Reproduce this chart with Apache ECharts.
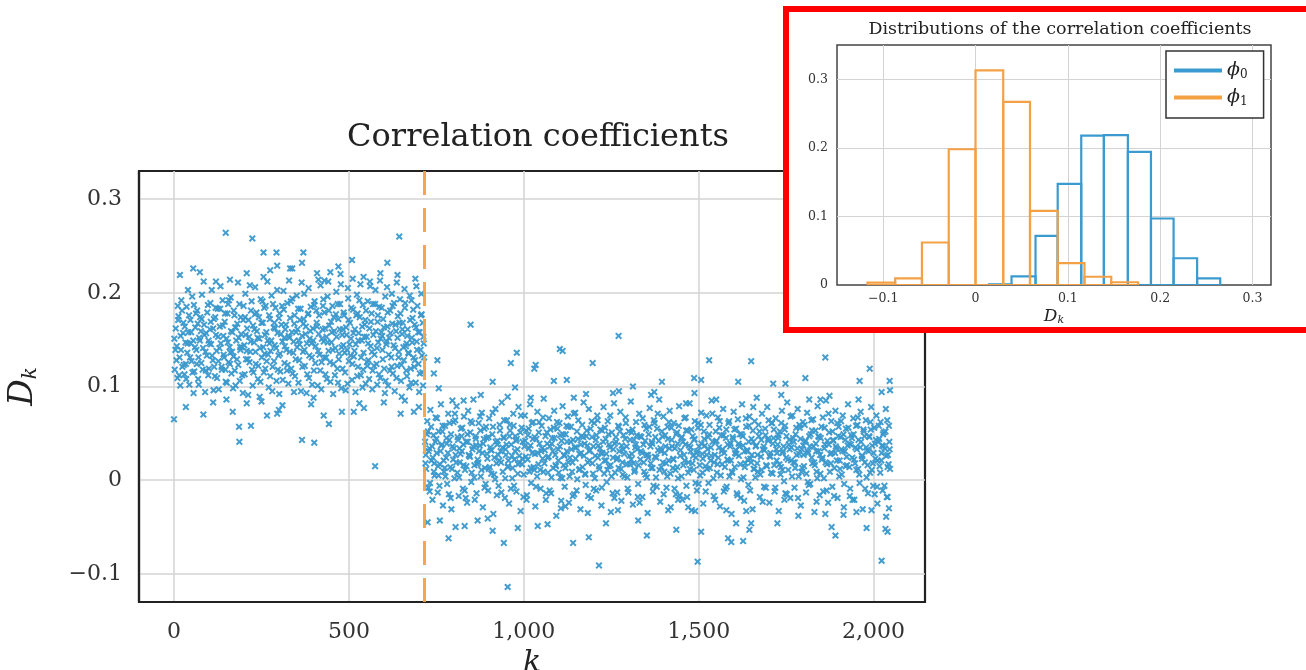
<!DOCTYPE html>
<html>
<head>
<meta charset="utf-8">
<script src="https://cdn.jsdelivr.net/npm/echarts@6/dist/echarts.min.js"></script>
<style>
html,body{margin:0;padding:0;background:#fff;}
#chart{width:1306px;height:670px;}
</style>
</head>
<body>
<div id="chart"></div>
<script>
// ---------------- DATA ----------------
const mainTitle = 'Correlation coefficients';
const insetTitle = 'Distributions of the correlation coefficients';
const changePoint = 716;

// correlation coefficient D_k for regime phi0 (k < changePoint): [k, D_k]
const regime0Core = [
[2,.118],[5,.162],[8,.143],[10,.109],[13,.175],[16,.131],[19,.154],[21,.192],[24,.121],[27,.168],[30,.113],[33,.147],[36,.185],[38,.136],[41,.158],[44,.102],[47,.171],[50,.127],[52,.196],[55,.149],[58,.116],[61,.163],[64,.139],[66,.181],[69,.108],[72,.152],[75,.174],[78,.125],[80,.198],[83,.141],[86,.166],[89,.094],[92,.157],[94,.133],[97,.187],[100,.119],[103,.161],[106,.145],[108,.203],[111,.128],[114,.172],[117,.111],[120,.155],[122,.138],[125,.183],[128,.097],[131,.164],[134,.146],[136,.121],[139,.192],[142,.134],[145,.169],[148,.105],[150,.151],[153,.178],[156,.126],[159,.142],[162,.195],[164,.114],[167,.158],[170,.132],[173,.176],[176,.101],[178,.149],[181,.167],[184,.123],[187,.188],[190,.139],[192,.156],[195,.112],[198,.171],[201,.144],[204,.199],[206,.129],[209,.162],[212,.091],[215,.153],[218,.137],[220,.181],[223,.118],[226,.165],[229,.147],[232,.206],[234,.124],[237,.159],[240,.108],[243,.174],[246,.141],[248,.193],[251,.131],[254,.168],[257,.115],[260,.155],[262,.186],[265,.127],[268,.149],[271,.099],[274,.172],[276,.138],[279,.197],[282,.121],[285,.163],[288,.144],[290,.184],[293,.106],[296,.157],[299,.133],[302,.178],[304,.116],[307,.166],[310,.148],[313,.202],[316,.125],[318,.161],[321,.139],[324,.189],[327,.103],[330,.152],[332,.173],[335,.119],[338,.194],[341,.136],[344,.167],[346,.111],[349,.158],[352,.142],[355,.183],[358,.128],[360,.171],[363,.095],[366,.154],[369,.137],[372,.199],[374,.122],[377,.164],[380,.146],[383,.177],[386,.109],[388,.151],[391,.185],[394,.131],[397,.162],[400,.117],[402,.191],[405,.143],[408,.168],[411,.101],[414,.156],[416,.134],[419,.208],[422,.126],[425,.161],[428,.148],[430,.179],[433,.113],[436,.153],[439,.196],[442,.138],[444,.165],[447,.105],[450,.147],[453,.186],[456,.124],[458,.159],[461,.141],[464,.201],[467,.119],[470,.172],[472,.135],[475,.188],[478,.098],[481,.155],[484,.144],[486,.176],[489,.115],[492,.163],[495,.139],[498,.194],[500,.127],[503,.168],[506,.151],[509,.107],[512,.182],[514,.132],[517,.161],[520,.145],[523,.198],[526,.121],[528,.157],[531,.174],[534,.112],[537,.149],[540,.187],[542,.136],[545,.166],[548,.103],[551,.153],[554,.191],[556,.128],[559,.162],[562,.143],[565,.178],[568,.117],[570,.155],[573,.134],[576,.203],[579,.124],[582,.169],[584,.147],[587,.185],[590,.109],[593,.158],[596,.139],[598,.172],[601,.119],[604,.196],[607,.145],[610,.164],[612,.101],[615,.152],[618,.181],[621,.131],[624,.167],[626,.114],[629,.189],[632,.141],[635,.159],[638,.122],[640,.175],[643,.137],[646,.193],[649,.106],[652,.156],[654,.168],[657,.128],[660,.184],[663,.143],[666,.111],[668,.161],[671,.135],[674,.197],[677,.119],[680,.152],[682,.173],[685,.131],[688,.166],[691,.104],[694,.148],[696,.186],[699,.124],[702,.158],[705,.139],[708,.177],[710,.115],[713,.153],[715,.131]
];
const regime0Spread = [
[4,.139],[11,.186],[18,.101],[26,.157],[34,.124],[40,.203],[48,.146],[56,.093],[63,.178],[70,.131],[77,.159],[85,.212],[91,.117],[99,.149],[105,.169],[113,.096],[119,.184],[127,.127],[133,.207],[141,.154],[147,.118],[155,.188],[161,.136],[169,.098],[175,.163],[183,.211],[189,.142],[197,.093],[203,.174],[211,.129],[217,.208],[225,.101],[231,.177],[239,.152],[245,.089],[253,.191],[259,.135],[267,.212],[273,.146],[281,.095],[287,.168],[295,.203],[301,.092],[309,.186],[315,.152],[323,.117],[329,.213],[337,.158],[343,.094],[351,.197],[357,.149],[365,.211],[371,.172],[379,.093],[385,.205],[393,.146],[399,.088],[407,.181],[413,.214],[421,.097],[427,.193],[435,.131],[441,.212],[449,.169],[455,.092],[463,.177],[469,.104],[477,.209],[483,.161],[491,.096],[497,.205],[505,.133],[511,.215],[519,.094],[525,.178],[533,.209],[539,.099],[547,.171],[553,.122],[561,.207],[567,.097],[575,.188],[581,.102],[589,.213],[595,.154],[603,.093],[609,.206],[617,.117],[623,.199],[631,.095],[637,.211],[645,.168],[651,.089],[659,.204],[665,.146],[673,.099],[679,.192],[687,.121],[693,.207],[701,.094],[707,.199],[712,.101]
];
const regime0Dense = [
[1,.151],[7,.128],[12,.171],[15,.112],[20,.139],[23,.181],[28,.123],[31,.164],[35,.108],[39,.146],[43,.176],[46,.131],[49,.158],[53,.115],[57,.187],[60,.142],[65,.124],[68,.167],[71,.102],[74,.149],[79,.172],[82,.118],[87,.155],[90,.137],[95,.179],[98,.112],[101,.146],[104,.189],[109,.133],[112,.162],[115,.121],[118,.174],[123,.109],[126,.153],[130,.141],[132,.183],[137,.118],[140,.165],[143,.131],[146,.178],[151,.104],[154,.147],[157,.192],[160,.124],[163,.159],[166,.137],[171,.181],[174,.117],[177,.163],[180,.129],[185,.152],[188,.106],[191,.174],[194,.142],[199,.186],[202,.113],[205,.155],[208,.138],[213,.171],[216,.126],[219,.148],[222,.191],[227,.115],[230,.161],[233,.137],[236,.179],[241,.122],[244,.151],[247,.105],[250,.168],[255,.142],[258,.184],[261,.119],[264,.158],[269,.134],[272,.176],[275,.111],[278,.149],[283,.188],[286,.127],[289,.162],[292,.141],[297,.118],[300,.173],[303,.135],[306,.156],[311,.107],[314,.182],[317,.143],[320,.166],[325,.123],[328,.154],[331,.137],[334,.191],[339,.114],[342,.148],[345,.176],[348,.129],[353,.161],[356,.104],[359,.145],[362,.183],[367,.121],[370,.167],[373,.139],[376,.156],[381,.113],[384,.178],[387,.133],[390,.159],[395,.102],[398,.149],[401,.187],[404,.125],[409,.164],[412,.138],[415,.176],[418,.117],[423,.151],[426,.186],[429,.131],[432,.162],[437,.108],[440,.147],[443,.181],[446,.126],[451,.158],[454,.139],[457,.174],[460,.112],[465,.153],[468,.188],[471,.129],[474,.161],[479,.142],[482,.119],[485,.179],[488,.136],[493,.155],[496,.103],[499,.171],[502,.145],[507,.184],[510,.124],[513,.157],[516,.138],[521,.176],[524,.111],[527,.149],[530,.192],[535,.131],[538,.164],[541,.118],[544,.153],[549,.181],[552,.126],[555,.146],[558,.108],[563,.169],[566,.137],[569,.188],[572,.122],[577,.159],[580,.141],[583,.176],[586,.113],[591,.151],[594,.184],[597,.129],[600,.163],[605,.106],[608,.148],[611,.179],[614,.134],[619,.157],[622,.121],[625,.186],[628,.144],[633,.166],[636,.109],[639,.152],[642,.131],[647,.178],[650,.123],[653,.161],[656,.142],[661,.189],[664,.117],[667,.154],[670,.136],[675,.171],[678,.104],[681,.147],[684,.182],[689,.128],[692,.163],[695,.139],[698,.158],[703,.114],[706,.176],[709,.133],[711,.168],[714,.146]
];
const regime0Outliers = [
[148,.264],[224,.258],[256,.243],[293,.243],[370,.243],[644,.260],[509,.235],[690,.215],[610,.232],[17,.219],[55,.226],[74,.222],[208,.221],[295,.229],[332,.226],[366,.232],[409,.221],[447,.222],[476,.220],[590,.221],[256,.217],[275,.224],[338,.226],[542,.217],[639,.219],[560,.212],[120,.212],[160,.214],[430,.213],[470,.228],
[0,.065],[34,.078],[84,.070],[186,.057],[220,.058],[187,.041],[366,.043],[401,.040],[443,.060],[575,.015],[295,.071],[266,.069],[168,.073],[208,.082],[480,.073],[514,.073],[543,.077],[648,.071],[686,.073],[428,.069],[300,.075],[112,.083],[310,.080],[150,.086],[250,.084],[392,.081],[600,.083],[700,.078],[660,.085],[530,.082]
];

// correlation coefficient D_k for regime phi1 (k >= changePoint): [k, D_k]
const regime1Core = [
[718,.041],[721,.012],[724,.063],[727,-.008],[730,.034],[733,.075],[736,.021],[739,-.021],[742,.048],[745,.005],[748,.067],[751,.029],[754,-.013],[757,.052],[760,.017],[763,.081],[766,.038],[769,-.027],[772,.009],[775,.058],[778,.024],[781,-.004],[784,.071],[787,.043],[790,.014],[793,-.031],[796,.036],[799,.062],[802,.002],[805,.027],[808,.079],[811,.046],[814,-.017],[817,.019],[820,.055],[823,.031],[826,-.009],[829,.068],[832,.011],[835,.041],[838,-.024],[841,.074],[844,.026],[847,.051],[850,-.002],[853,.033],[856,.086],[859,.016],[862,.047],[865,-.014],[868,.022],[871,.061],[874,.037],[877,.004],[880,.072],[883,-.029],[886,.044],[889,.013],[892,.057],[895,.028],[898,-.011],[901,.066],[904,.035],[907,.007],[910,.049],[913,-.036],[916,.024],[919,.076],[922,.018],[925,.042],[928,-.006],[931,.059],[934,.031],[937,.083],[940,.009],[943,.045],[946,-.019],[949,.027],[952,.064],[955,.015],[958,-.025],[961,.053],[964,.038],[967,.002],[970,.071],[973,.022],[976,.047],[979,-.012],[982,.033],[985,.078],[988,.019],[991,-.033],[994,.056],[997,.041],[1000,.006],[1003,.069],[1006,.025],[1009,-.016],[1012,.048],[1015,.034],[1018,.081],[1021,-.003],[1024,.029],[1027,.062],[1030,.011],[1033,-.028],[1036,.044],[1039,.073],[1042,.017],[1045,.039],[1048,-.009],[1051,.058],[1054,.023],[1057,.087],[1060,.032],[1063,-.021],[1066,.051],[1069,.008],[1072,.066],[1075,.036],[1078,-.014],[1081,.045],[1084,.013],[1087,.074],[1090,.027],[1093,-.038],[1096,.055],[1099,.021],[1102,.061],[1105,.003],[1108,.042],[1111,.079],[1114,.016],[1117,-.007],[1120,.049],[1123,.031],[1126,.068],[1129,-.024],[1132,.024],[1135,.057],[1138,.009],[1141,.043],[1144,-.015],[1147,.072],[1150,.035],[1153,.001],[1156,.064],[1159,.028],[1162,-.031],[1165,.047],[1168,.014],[1171,.083],[1174,.039],[1177,-.005],[1180,.053],[1183,.019],[1186,.076],[1189,.032],[1192,-.019],[1195,.046],[1198,.007],[1201,.061],[1204,.026],[1207,-.011],[1210,.069],[1213,.037],[1216,.012],[1219,.054],[1222,-.027],[1225,.029],[1228,.078],[1231,.021],[1234,.044],[1237,-.002],[1240,.063],[1243,.015],[1246,.035],[1249,-.034],[1252,.051],[1255,.024],[1258,.082],[1261,.008],[1264,.041],[1267,-.013],[1270,.058],[1273,.031],[1276,.073],[1279,-.022],[1282,.019],[1285,.048],[1288,.004],[1291,.067],[1294,.036],[1297,-.009],[1300,.052],[1303,.017],[1306,.084],[1309,.028],[1312,-.026],[1315,.043],[1318,.011],[1321,.062],[1324,.033],[1327,-.004],[1330,.071],[1333,.022],[1336,.046],[1339,-.018],[1342,.038],[1345,.059],[1348,.006],[1351,.027],[1354,-.035],[1357,.049],[1360,.077],[1363,.018],[1366,.041],[1369,-.012],[1372,.064],[1375,.025],[1378,.003],[1381,.055],[1384,.032],[1387,.086],[1390,-.023],[1393,.014],[1396,.047],[1399,.068],[1402,.009],[1405,.036],[1408,-.008],[1411,.057],[1414,.021],[1417,.074],[1420,-.029],[1423,.043],[1426,.013],[1429,.061],[1432,.034],[1435,-.015],[1438,.051],[1441,.002],[1444,.079],[1447,.026],[1450,.045],[1453,-.021],[1456,.016],[1459,.066],[1462,.038],[1465,-.006],[1468,.053],[1471,.019],[1474,.082],[1477,.031],[1480,-.032],[1483,.047],[1486,.011],[1489,.063],[1492,.024],[1495,-.011],[1498,.056],[1501,.036],[1504,.005],[1507,.072],[1510,.028],[1513,-.025],[1516,.044],[1519,.015],[1522,.069],[1525,.033],[1528,-.003],[1531,.059],[1534,.021],[1537,.085],[1540,.041],[1543,-.017],[1546,.027],[1549,.052],[1552,.008],[1555,.067],[1558,.035],[1561,-.028],[1564,.048],[1567,.017],[1570,.076],[1573,.029],[1576,-.009],[1579,.054],[1582,.022],[1585,.061],[1588,.004],[1591,.039],[1594,-.036],[1597,.046],[1600,.073],[1603,.014],[1606,.032],[1609,-.014],[1612,.065],[1615,.026],[1618,.049],[1621,.001],[1624,.081],[1627,.037],[1630,-.022],[1633,.018],[1636,.057],[1639,.031],[1642,-.005],[1645,.068],[1648,.023],[1651,.044],[1654,-.031],[1657,.012],[1660,.063],[1663,.036],[1666,.088],[1669,.009],[1672,.047],[1675,-.018],[1678,.025],[1681,.071],[1684,.033],[1687,-.007],[1690,.055],[1693,.016],[1696,.078],[1699,.042],[1702,-.024],[1705,.029],[1708,.061],[1711,.007],[1714,.045],[1717,-.012],[1720,.066],[1723,.021],[1726,.038],[1729,-.033],[1732,.052],[1735,.014],[1738,.074],[1741,.031],[1744,-.001],[1747,.058],[1750,.024],[1753,.083],[1756,.011],[1759,.043],[1762,-.019],[1765,.035],[1768,.069],[1771,.019],[1774,-.008],[1777,.049],[1780,.027],[1783,.076],[1786,.004],[1789,.056],[1792,-.027],[1795,.033],[1798,.062],[1801,.015],[1804,.041],[1807,-.013],[1810,.072],[1813,.029],[1816,.047],[1819,-.004],[1822,.064],[1825,.018],[1828,.036],[1831,-.034],[1834,.053],[1837,.009],[1840,.079],[1843,.031],[1846,-.016],[1849,.045],[1852,.022],[1855,.067],[1858,.002],[1861,.038],[1864,.085],[1867,.017],[1870,-.024],[1873,.051],[1876,.028],[1879,.063],[1882,-.007],[1885,.042],[1888,.013],[1891,.074],[1894,.034],[1897,-.019],[1900,.057],[1903,.021],[1906,.046],[1909,.006],[1912,.069],[1915,-.029],[1918,.031],[1921,.055],[1924,.016],[1927,.081],[1930,.039],[1933,-.009],[1936,.048],[1939,.024],[1942,.066],[1945,-.021],[1948,.035],[1951,.011],[1954,.059],[1957,.043],[1960,-.003],[1963,.073],[1966,.026],[1969,-.031],[1972,.052],[1975,.019],[1978,.064],[1981,.032],[1984,-.014],[1987,.047],[1990,.008],[1993,.078],[1996,.037],[1999,-.006],[2002,.056],[2005,.023],[2008,.069],[2011,-.025],[2014,.041],[2017,.015],[2020,.062],[2023,.029],[2026,-.011],[2029,.051],[2032,.034],[2035,.076],[2038,-.018],[2041,.027],[2044,.058],[2047,.012]
];
const regime1Spread = [
[720,.027],[726,.052],[732,-.003],[738,.036],[744,.018],[750,.044],[756,.005],[762,.031],[768,.058],[774,.013],[780,.039],[786,-.015],[792,.049],[798,.022],[804,.064],[810,.008],[816,.034],[822,.047],[828,.016],[834,-.019],[840,.041],[846,.025],[852,.061],[858,.003],[864,.037],[870,.019],[876,.053],[882,.029],[888,-.008],[894,.045],[900,.012],[906,.032],[912,.057],[918,.001],[924,.038],[930,.021],[936,-.013],[942,.046],[948,.033],[954,.014],[960,.059],[966,.026],[972,-.006],[978,.042],[984,.017],[990,.051],[996,.023],[1002,.036],[1008,-.021],[1014,.055],[1020,.013],[1026,.044],[1032,.028],[1038,.004],[1044,.062],[1050,.031],[1056,.009],[1062,.047],[1068,.024],[1074,-.011],[1080,.039],[1086,.056],[1092,.015],[1098,.033],[1104,.048],[1110,.002],[1116,.026],[1122,.058],[1128,.019],[1134,.041],[1140,-.017],[1146,.035],[1152,.052],[1158,.011],[1164,.029],[1170,.046],[1176,.006],[1182,.037],[1188,.021],[1194,.063],[1200,-.009],[1206,.043],[1212,.024],[1218,.034],[1224,.053],[1230,.007],[1236,.028],[1242,.049],[1248,.016],[1254,-.014],[1260,.039],[1266,.022],[1272,.057],[1278,.012],[1284,.033],[1290,.044],[1296,.003],[1302,.026],[1308,.051],[1314,.018],[1320,.038],[1326,-.018],[1332,.047],[1338,.029],[1344,.009],[1350,.055],[1356,.024],[1362,.036],[1368,.013],[1374,.061],[1380,-.007],[1386,.042],[1392,.031],[1398,.019],[1404,.048],[1410,.004],[1416,.034],[1422,.056],[1428,.022],[1434,.011],[1440,.039],[1446,-.016],[1452,.046],[1458,.027],[1464,.053],[1470,.008],[1476,.035],[1482,.018],[1488,.044],[1494,.029],[1500,-.004],[1506,.059],[1512,.023],[1518,.037],[1524,.012],[1530,.049],[1536,.026],[1542,.002],[1548,.041],[1554,.017],[1560,.063],[1566,.031],[1572,-.012],[1578,.045],[1584,.021],[1590,.036],[1596,.008],[1602,.054],[1608,.028],[1614,.039],[1620,-.019],[1626,.047],[1632,.014],[1638,.032],[1644,.058],[1650,.019],[1656,.041],[1662,.003],[1668,.027],[1674,.052],[1680,.011],[1686,.036],[1692,-.008],[1698,.044],[1704,.025],[1710,.061],[1716,.016],[1722,.033],[1728,.048],[1734,.006],[1740,.029],[1746,.054],[1752,-.015],[1758,.038],[1764,.021],[1770,.045],[1776,.013],[1782,.034],[1788,.059],[1794,.009],[1800,.027],[1806,.042],[1812,-.002],[1818,.036],[1824,.053],[1830,.019],[1836,.031],[1842,.047],[1848,.007],[1854,.024],[1860,.056],[1866,-.011],[1872,.038],[1878,.018],[1884,.043],[1890,.029],[1896,.061],[1902,.004],[1908,.033],[1914,.049],[1920,.015],[1926,.037],[1932,-.017],[1938,.045],[1944,.022],[1950,.058],[1956,.012],[1962,.035],[1968,.026],[1974,.047],[1980,.003],[1986,.031],[1992,.054],[1998,.018],[2004,.039],[2010,-.007],[2016,.044],[2022,.021],[2028,.036],[2034,.052],[2040,.014],[2046,.033]
];
const regime1Dense = [
[719,.018],[723,.049],[728,.031],[731,-.012],[735,.057],[740,.024],[743,.009],[747,.041],[752,.066],[755,.015],[759,-.006],[764,.037],[767,.052],[771,.021],[776,.004],[779,.045],[783,.029],[788,.061],[791,-.019],[795,.012],[800,.034],[803,.071],[807,.019],[812,.043],[815,.003],[819,.028],[824,.056],[827,.038],[831,-.011],[836,.015],[839,.049],[843,.027],[848,.063],[851,.008],[855,.036],[860,-.021],[863,.044],[867,.017],[872,.031],[875,.068],[879,.011],[884,.039],[887,.055],[891,-.004],[896,.023],[899,.046],[903,.014],[908,.032],[911,.072],[915,.006],[920,.041],[923,-.016],[927,.027],[932,.053],[935,.019],[939,.035],[944,.064],[947,.002],[951,.038],[956,.021],[959,.047],[963,-.009],[968,.013],[971,.058],[975,.031],[980,.044],[983,.007],[987,.026],[992,.069],[995,.017],[999,-.018],[1004,.042],[1007,.053],[1011,.022],[1016,.009],[1019,.037],[1023,.061],[1028,.014],[1031,.046],[1035,-.007],[1040,.029],[1043,.051],[1047,.011],[1052,.034],[1055,.067],[1059,.018],[1064,-.014],[1067,.039],[1071,.025],[1076,.054],[1079,.003],[1083,.031],[1088,.045],[1091,.016],[1095,.062],[1100,.008],[1103,.036],[1107,-.022],[1112,.049],[1115,.027],[1119,.013],[1124,.041],[1127,.057],[1131,.004],[1136,.033],[1139,.019],[1143,.071],[1148,.023],[1151,-.011],[1155,.044],[1160,.012],[1163,.038],[1167,.059],[1172,.026],[1175,.007],[1179,.047],[1184,-.017],[1187,.031],[1191,.055],[1196,.018],[1199,.036],[1203,.002],[1208,.048],[1211,.064],[1215,.015],[1220,.029],[1223,-.008],[1227,.041],[1232,.056],[1235,.021],[1239,.011],[1244,.038],[1247,.069],[1251,.004],[1256,.033],[1259,-.019],[1263,.046],[1268,.024],[1271,.013],[1275,.052],[1280,.037],[1283,.006],[1287,.028],[1292,.061],[1295,.017],[1299,-.013],[1304,.043],[1307,.022],[1311,.054],[1316,.009],[1319,.035],[1323,.048],[1328,.016],[1331,-.024],[1335,.031],[1340,.066],[1343,.019],[1347,.042],[1352,.003],[1355,.027],[1359,.057],[1364,.013],[1367,.039],[1371,-.006],[1376,.046],[1379,.024],[1383,.071],[1388,.011],[1391,.034],[1395,.052],[1400,-.015],[1403,.029],[1407,.018],[1412,.044],[1415,.062],[1419,.007],[1424,.036],[1427,.023],[1431,-.009],[1436,.049],[1439,.014],[1443,.058],[1448,.032],[1451,.004],[1455,.041],[1460,.021],[1463,.067],[1467,-.018],[1472,.037],[1475,.012],[1479,.054],[1484,.026],[1487,.043],[1491,-.003],[1496,.031],[1499,.061],[1503,.016],[1508,.039],[1511,.008],[1515,.052],[1520,-.012],[1523,.027],[1527,.046],[1532,.013],[1535,.035],[1539,.071],[1544,.019],[1547,-.021],[1551,.042],[1556,.024],[1559,.056],[1563,.005],[1568,.033],[1571,.048],[1575,.014],[1580,-.007],[1583,.038],[1587,.063],[1592,.021],[1595,.009],[1599,.044],[1604,.029],[1607,.055],[1611,-.016],[1616,.036],[1619,.017],[1623,.049],[1628,.003],[1631,.031],[1635,.066],[1640,.022],[1643,.041],[1647,-.011],[1652,.027],[1655,.053],[1659,.012],[1664,.037],[1667,.018],[1671,.059],[1676,.006],[1679,.043],[1683,-.023],[1688,.032],[1691,.048],[1695,.015],[1700,.064],[1703,.026],[1707,.008],[1712,.039],[1715,.054],[1719,-.008],[1724,.029],[1727,.045],[1731,.017],[1736,.061],[1739,.011],[1743,.036],[1748,-.014],[1751,.047],[1755,.022],[1760,.033],[1763,.068],[1767,.004],[1772,.041],[1775,.019],[1779,.056],[1784,-.019],[1787,.028],[1791,.044],[1796,.013],[1799,.037],[1803,.059],[1808,.007],[1811,.031],[1815,-.005],[1820,.049],[1823,.024],[1827,.065],[1832,.016],[1835,.039],[1839,.002],[1844,.046],[1847,.027],[1851,.057],[1856,-.012],[1859,.034],[1863,.019],[1868,.042],[1871,.071],[1875,.009],[1880,.029],[1883,.052],[1887,-.017],[1892,.036],[1895,.021],[1899,.047],[1904,.012],[1907,.063],[1911,.031],[1916,-.004],[1919,.043],[1923,.025],[1928,.056],[1931,.014],[1935,.038],[1940,-.021],[1943,.049],[1947,.018],[1952,.033],[1955,.067],[1959,.006],[1964,.041],[1967,.023],[1971,.054],[1976,-.009],[1979,.035],[1983,.016],[1988,.046],[1991,.062],[1995,.011],[2000,.029],[2003,-.015],[2007,.043],[2012,.021],[2015,.058],[2019,.008],[2024,.037],[2027,.049],[2031,-.006],[2036,.026],[2039,.064],[2043,.017],[2045,.041]
];
const regime1Outliers = [
[848,.166],[1271,.154],[753,.128],[743,.114],[963,.125],[980,.136],[1034,.123],[1030,.119],[1103,.140],[1111,.138],[1197,.125],[911,.105],[1086,.106],[1123,.107],[1312,.100],[1395,.105],[757,.098],[975,.099],[954,.089],[828,.085],[796,.085],[877,.091],[1178,.092],[1255,.093],[1272,.095],[1364,.091],[1373,.094],[1143,.088],[1020,.088],
[1530,.128],[1650,.127],[1862,.131],[1989,.119],[1613,.105],[1713,.103],[1748,.103],[1805,.109],[1960,.106],[2046,.106],[2047,.096],[2023,.094],[1487,.109],[1507,.107],[1488,.093],[1550,.086],[1736,.091],[1816,.086],[1848,.086],[1874,.090],[1957,.086],[1464,.082],[1656,.078],
[954,-.114],[1215,-.091],[785,-.062],[943,-.067],[1141,-.067],[1186,-.061],[911,-.054],[1040,-.049],[1068,-.047],[805,-.050],[831,-.049],[1352,-.059],[1327,-.043],[1436,-.053],[1235,-.046],[983,-.051],[725,-.045],[760,-.043],[868,-.043],[897,-.041],[1106,-.030],[1119,-.028],[1269,-.032],[1183,-.035],[1413,-.032],[1441,-.021],
[1497,-.087],[2023,-.086],[1584,-.062],[1593,-.066],[1627,-.065],[1507,-.055],[1645,-.053],[1650,-.046],[1725,-.046],[1607,-.046],[1880,-.050],[1891,-.059],[1980,-.051],[2034,-.052],[2040,-.055],[1636,-.033],[1579,-.032],[1785,-.038],[1862,-.036],[1914,-.037],[1951,-.034],[1994,-.032],[2036,-.039],[2044,-.030],[1470,-.029],[1490,-.033],[1837,-.023],[1745,-.021],[2040,-.018]
];

// Histogram bins [binStart, binEnd, relative frequency]
const phi0Bins = [
[0.0145,0.039,0.001],[0.039,0.065,0.0127],[0.065,0.089,0.0716],[0.089,0.1145,0.1476],[0.1145,0.139,0.2177],
[0.139,0.165,0.2187],[0.165,0.19,0.194],[0.19,0.2145,0.097],[0.2145,0.24,0.039],[0.24,0.265,0.0097]
];
const phi1Bins = [
[-0.117,-0.087,0.0034],[-0.087,-0.058,0.0097],[-0.058,-0.029,0.062],[-0.029,0,0.198],[0,0.030,0.313],
[0.030,0.059,0.267],[0.059,0.089,0.108],[0.089,0.118,0.032],[0.118,0.147,0.012],[0.147,0.176,0.004]
];
const legendNames = ['ϕ0', 'ϕ1'];

// ---------------- STYLE ----------------
const SERIF = '"DejaVu Serif", "Liberation Serif", serif';
const BLUE = '#3a98cc';
const HBLUE = '#3b9bd0';
const ORANGE = '#f4a146';
const GRIDC = '#d3d3d3';
const CROSS = 'path://M0,2L2,0L5,3L8,0L10,2L7,5L10,8L8,10L5,7L2,10L0,8L3,5Z';

function fmtNum(v) {
  const r = Math.round(v * 1000) / 1000;
  return r < 0 ? '\u2212' + Math.abs(r) : String(r);
}

const chart = echarts.init(document.getElementById('chart'), null, {renderer: 'canvas'});

function histRender(color) {
  return function (params, api) {
    const p0 = api.coord([api.value(0), api.value(2)]);
    const p1 = api.coord([api.value(1), 0]);
    return {
      type: 'rect',
      shape: {x: p0[0], y: p0[1], width: p1[0] - p0[0], height: p1[1] - p0[1]},
      style: {fill: 'none', stroke: color, lineWidth: 2.2}
    };
  };
}

const mainSplit = {show: true, showMinLine: false, showMaxLine: false, lineStyle: {color: GRIDC, width: 1.5}};
const insetSplit = {show: true, showMinLine: false, showMaxLine: false, lineStyle: {color: GRIDC, width: 1}};
const mainAxisLine = {show: true, onZero: false, lineStyle: {color: '#222', width: 2.2}};

const option = {
  animation: false,
  backgroundColor: '#fff',
  title: [
    {text: mainTitle, left: 533, top: 117, textAlign: 'center',
     textStyle: {fontFamily: SERIF, fontWeight: 'normal', fontSize: 32, color: '#222'}},
    {text: insetTitle, left: 1055, top: 15, textAlign: 'center', zlevel: 1, z: 20,
     textStyle: {fontFamily: SERIF, fontWeight: 'normal', fontSize: 17.5, color: '#222'}}
  ],
  graphic: [
    {type: 'rect', zlevel: 1, z: 0, silent: true,
     shape: {x: 786, y: 9, width: 600, height: 321},
     style: {fill: '#fff', stroke: '#ff0000', lineWidth: 6}}
  ],
  legend: {
    zlevel: 1, z: 30,
    left: 1166, top: 51, orient: 'vertical',
    padding: [10, 16, 10, 8], itemGap: 7, itemWidth: 48, itemHeight: 4,
    borderColor: '#333', borderWidth: 1.5, backgroundColor: '#fff',
    data: [{name: legendNames[0], icon: 'rect'}, {name: legendNames[1], icon: 'rect'}],
    formatter: n => '{i|' + n.charAt(0) + '}{s|' + n.slice(1) + '}',
    textStyle: {
      rich: {
        i: {fontFamily: SERIF, fontStyle: 'italic', fontSize: 19, color: '#222'},
        s: {fontFamily: SERIF, fontSize: 12, color: '#222', padding: [9, 0, 0, 0]}
      }
    }
  },
  grid: [
    {left: 139, top: 171, width: 786, height: 431, outerBoundsMode: 'none', containLabel: false,
     show: true, borderColor: '#222', borderWidth: 2.2, backgroundColor: 'transparent'},
    {left: 837, top: 45, width: 434, height: 240, outerBoundsMode: 'none', containLabel: false,
     show: true, borderColor: '#444', borderWidth: 1.5, backgroundColor: '#fff', zlevel: 1, z: 1}
  ],
  xAxis: [
    {type: 'value', gridIndex: 0, min: -100, max: 2147,
     name: 'k', nameLocation: 'middle', nameGap: 33,
     nameTextStyle: {fontFamily: SERIF, fontStyle: 'italic', fontSize: 30, color: '#222'},
     axisLine: mainAxisLine, axisTick: {show: false},
     axisLabel: {showMinLabel: false, showMaxLabel: false, margin: 19, fontFamily: SERIF, fontSize: 22, color: '#333',
                 formatter: v => Math.round(v).toLocaleString('en-US')},
     splitLine: mainSplit},
    {type: 'value', gridIndex: 1, min: -0.15, max: 0.32, zlevel: 1, z: 3,
     name: '{i|D}{s|k}', nameLocation: 'middle', nameGap: 22,
     nameTextStyle: {rich: {i: {fontFamily: SERIF, fontStyle: 'italic', fontSize: 17, color: '#222'},
                            s: {fontFamily: SERIF, fontStyle: 'italic', fontSize: 11, color: '#222', padding: [8, 0, 0, 0]}}},
     axisLine: {show: false}, axisTick: {show: false},
     axisLabel: {showMinLabel: false, showMaxLabel: false, margin: 7, fontFamily: SERIF, fontSize: 12.5, color: '#333', formatter: fmtNum},
     splitLine: insetSplit}
  ],
  yAxis: [
    {type: 'value', gridIndex: 0, min: -0.13, max: 0.33,
     name: '{i|D}{s|k}', nameLocation: 'middle', nameGap: 98, nameRotate: 90,
     nameTextStyle: {rich: {i: {fontFamily: SERIF, fontStyle: 'italic', fontSize: 33, color: '#222'},
                            s: {fontFamily: SERIF, fontStyle: 'italic', fontSize: 20, color: '#222', padding: [16, 0, 0, 0]}}},
     axisLine: mainAxisLine, axisTick: {show: false},
     axisLabel: {showMinLabel: false, showMaxLabel: false, margin: 17, fontFamily: SERIF, fontSize: 22, color: '#333', formatter: fmtNum},
     splitLine: mainSplit},
    {type: 'value', gridIndex: 1, min: 0, max: 0.35, interval: 0.1, zlevel: 1, z: 3,
     axisLine: {show: false}, axisTick: {show: false},
     axisLabel: {showMaxLabel: false, margin: 9, fontFamily: SERIF, fontSize: 12.5, color: '#333', formatter: fmtNum},
     splitLine: insetSplit}
  ],
  series: [
    {type: 'scatter', name: 'change', xAxisIndex: 0, yAxisIndex: 0, data: [], z: 1,
     markLine: {silent: true, symbol: 'none', label: {show: false},
                lineStyle: {type: [24, 13], color: ORANGE, width: 3, opacity: 0.95},
                data: [{xAxis: changePoint}]}},
    {type: 'scatter', name: 'Dk', xAxisIndex: 0, yAxisIndex: 0, z: 3,
     symbol: CROSS, symbolSize: 7,
     itemStyle: {color: BLUE, opacity: 0.95},
     data: regime0Core.concat(regime0Spread, regime0Dense, regime0Outliers, regime1Core, regime1Spread, regime1Dense, regime1Outliers)},
    {type: 'custom', name: legendNames[0], xAxisIndex: 1, yAxisIndex: 1, zlevel: 1, z: 5,
     color: HBLUE, renderItem: histRender(HBLUE), encode: {x: [0, 1], y: 2}, data: phi0Bins, clip: true},
    {type: 'custom', name: legendNames[1], xAxisIndex: 1, yAxisIndex: 1, zlevel: 1, z: 6,
     color: ORANGE, renderItem: histRender(ORANGE), encode: {x: [0, 1], y: 2}, data: phi1Bins, clip: true}
  ]
};
chart.setOption(option);
</script>
</body>
</html>
